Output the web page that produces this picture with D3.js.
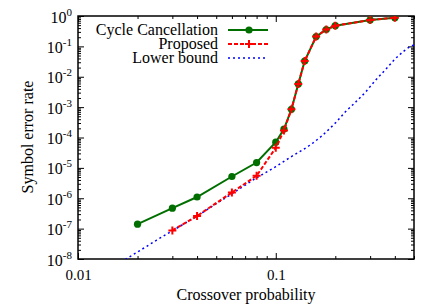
<!DOCTYPE html>
<html>
<head>
<meta charset="utf-8">
<script src="https://cdn.jsdelivr.net/npm/d3@7"></script>
<style>
  html, body { margin: 0; padding: 0; background: #fff; }
  svg { display: block; font-family: "Liberation Serif", "Times New Roman", serif; }
  .axis path { display: none; }
  .axis line { stroke: #000; stroke-width: 1; }
</style>
</head>
<body>
<svg id="chart" width="436" height="305"></svg>
<script>
// crossover probability vs symbol error rate
const ccP   = [0.02, 0.03, 0.04, 0.06, 0.08, 0.1, 0.11, 0.12, 0.13, 0.14, 0.16, 0.18, 0.2, 0.3, 0.4];
const ccSer = [1.4e-7, 4.7e-7, 1.1e-6, 5.2e-6, 1.5e-5, 7e-5, 1.9e-4, 8.5e-4, 5.8e-3, 0.033, 0.21, 0.36, 0.48, 0.74, 0.88];

const propP   = [0.03, 0.04, 0.06, 0.08, 0.1, 0.11, 0.12, 0.13, 0.14, 0.16, 0.18, 0.2, 0.3, 0.4];
const propSer = [8.7e-8, 2.6e-7, 1.55e-6, 5.5e-6, 4.6e-5, 1.7e-4, 8.5e-4, 5.8e-3, 0.033, 0.21, 0.36, 0.48, 0.74, 0.88];

const lbP   = [0.0165, 0.02, 0.025, 0.03, 0.04, 0.05, 0.06, 0.08, 0.1, 0.12, 0.15, 0.17, 0.2, 0.225, 0.25, 0.285, 0.32, 0.36, 0.4, 0.44, 0.48, 0.5];
const lbSer = [8e-9, 1.7e-8, 4.2e-8, 8.5e-8, 2.6e-7, 6.6e-7, 1.4e-6, 4.7e-6, 1.1e-5, 2.35e-5, 5.8e-5, 1.1e-4, 3.0e-4, 7.0e-4, 1.35e-3, 3.2e-3, 7.8e-3, 0.0176, 0.038, 0.066, 0.1, 0.112];

const xMajor = [0.01, 0.1];
const xMinor = [0.02, 0.03, 0.04, 0.05, 0.06, 0.07, 0.08, 0.09, 0.2, 0.3, 0.4, 0.5];
const yExps  = [0, -1, -2, -3, -4, -5, -6, -7, -8];

const svg = d3.select("#chart");
const mLeft = 78, mRight = 414, mTop = 16, mBottom = 259;

const x = d3.scaleLog().domain([0.01, 0.5]).range([mLeft, mRight]);
const y = d3.scaleLog().domain([1e-8, 1]).range([mBottom, mTop]);

const yMajor = yExps.map(e => Math.pow(10, e));
const yMinor = [];
yExps.slice(1).forEach(e => { for (let k = 2; k <= 9; k++) yMinor.push(k * Math.pow(10, e)); });

svg.append("clipPath").attr("id", "plotclip")
    .append("rect").attr("x", mLeft).attr("y", mTop).attr("width", mRight - mLeft).attr("height", mBottom - mTop);

// ticks, all pointing inward
const drawAxis = (axis, tx, ty) => svg.append("g").classed("axis", true)
    .attr("transform", `translate(${tx},${ty})`).call(axis);

drawAxis(d3.axisBottom(x).tickValues(xMajor).tickSize(-6).tickPadding(10).tickFormat(d => d === 0.01 ? "0.01" : "0.1"), 0, mBottom)
    .selectAll("text").attr("font-size", 15).attr("fill", "#000").attr("font-family", "Liberation Serif");
drawAxis(d3.axisBottom(x).tickValues(xMinor).tickSize(-3).tickFormat(""), 0, mBottom);
drawAxis(d3.axisBottom(x).tickValues(xMajor).tickSize(6).tickFormat(""), 0, mTop);
drawAxis(d3.axisBottom(x).tickValues(xMinor).tickSize(3).tickFormat(""), 0, mTop);

const yAxisG = drawAxis(d3.axisLeft(y).tickValues(yMajor).tickSize(-6).tickPadding(6).tickFormat(""), mLeft, 0);
drawAxis(d3.axisLeft(y).tickValues(yMinor).tickSize(-3).tickFormat(""), mLeft, 0);
drawAxis(d3.axisLeft(y).tickValues(yMajor).tickSize(6).tickFormat(""), mRight, 0);
drawAxis(d3.axisLeft(y).tickValues(yMinor).tickSize(3).tickFormat(""), mRight, 0);

// y labels as 10 with superscript exponent
yAxisG.selectAll("g.tick").each(function(d) {
    const e = Math.round(Math.log10(d));
    const t = d3.select(this).append("text")
        .attr("x", -6).attr("y", 6)
        .attr("text-anchor", "end").attr("fill", "#000")
        .attr("font-family", "Liberation Serif").attr("font-size", 16);
    t.append("tspan").text("10");
    t.append("tspan").attr("dy", -7).attr("font-size", 11).text(String(e));
});

svg.append("rect")
    .attr("x", mLeft).attr("y", mTop).attr("width", mRight - mLeft).attr("height", mBottom - mTop)
    .attr("fill", "none").attr("stroke", "#000").attr("stroke-width", 1.5);

// axis titles
svg.append("text").attr("x", 246).attr("y", 300).attr("text-anchor", "middle")
    .attr("font-size", 16).text("Crossover probability");
svg.append("text").attr("transform", "translate(33,137) rotate(-90)").attr("text-anchor", "middle")
    .attr("font-size", 16).text("Symbol error rate");

const green = "#006f00", red = "#ff0000", blue = "#0000ff";
const line = (px, py, curve) => d3.line().curve(curve || d3.curveLinear)
    .x((d, i) => x(px[i])).y((d, i) => y(py[i]))(px);

const plot = svg.append("g").attr("clip-path", "url(#plotclip)");

plot.append("path").attr("d", line(lbP, lbSer, d3.curveMonotoneX))
    .attr("fill", "none").attr("stroke", blue).attr("stroke-width", 1.5).attr("stroke-dasharray", "2,3");

plot.append("path").attr("d", line(ccP, ccSer))
    .attr("fill", "none").attr("stroke", green).attr("stroke-width", 2);
plot.selectAll("circle.cc").data(ccP).join("circle").classed("cc", true)
    .attr("cx", d => x(d)).attr("cy", (d, i) => y(ccSer[i])).attr("r", 3.6).attr("fill", green);

plot.append("path").attr("d", line(propP, propSer))
    .attr("fill", "none").attr("stroke", red).attr("stroke-width", 2).attr("stroke-dasharray", "4,2");
plot.selectAll("path.prop").data(propP).join("path").classed("prop", true)
    .attr("transform", (d, i) => `translate(${x(d)},${y(propSer[i])})`)
    .attr("d", "M-4,0H4M0,-4V4").attr("stroke", red).attr("stroke-width", 2);

// legend
const legend = [
    {label: "Cycle Cancellation", color: green, dash: null, w: 2, marker: "circle", yy: 30},
    {label: "Proposed", color: red, dash: "4,2", w: 2, marker: "plus", yy: 44},
    {label: "Lower bound", color: blue, dash: "2,3", w: 1.5, marker: null, yy: 58}
];
legend.forEach(l => {
    svg.append("text").attr("x", 218).attr("y", l.yy + 5).attr("text-anchor", "end")
        .attr("font-size", 16).text(l.label);
    svg.append("line").attr("x1", 228).attr("x2", l.marker ? 268 : 265).attr("y1", l.yy).attr("y2", l.yy)
        .attr("stroke", l.color).attr("stroke-width", l.w).attr("stroke-dasharray", l.dash);
    if (l.marker === "circle")
        svg.append("circle").attr("cx", 249).attr("cy", l.yy).attr("r", 3.6).attr("fill", l.color);
    if (l.marker === "plus")
        svg.append("path").attr("transform", `translate(249,${l.yy})`).attr("d", "M-4,0H4M0,-4V4")
            .attr("stroke", l.color).attr("stroke-width", 2);
});
</script>
</body>
</html>
